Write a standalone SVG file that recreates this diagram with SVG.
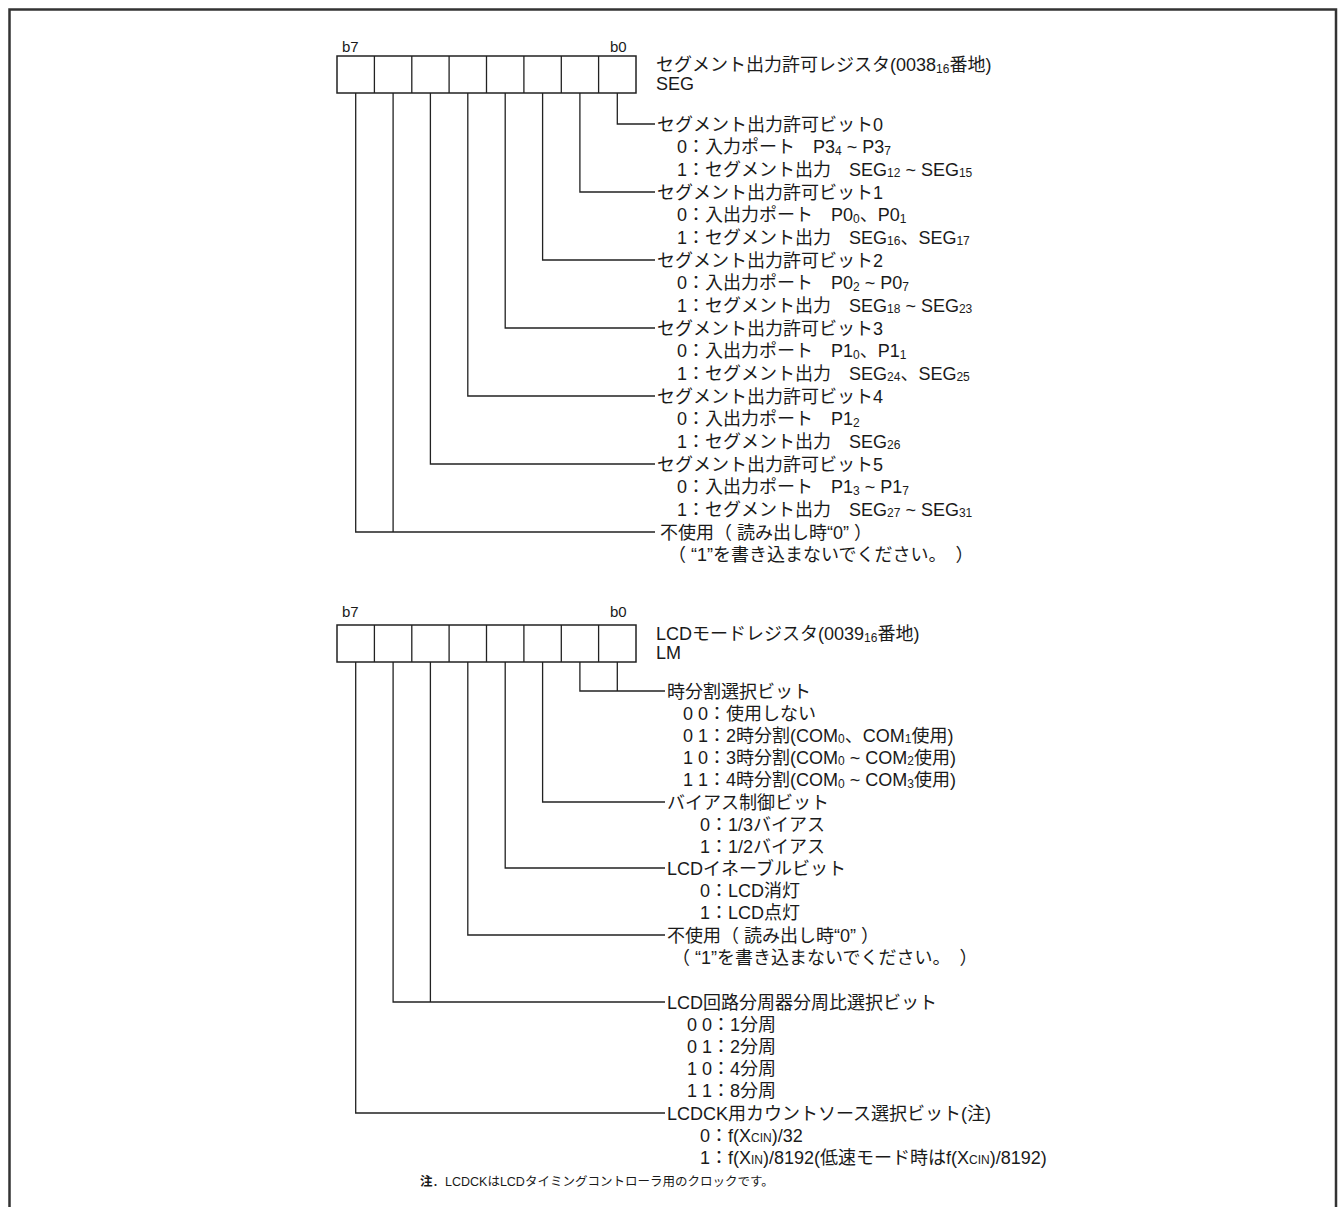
<svg xmlns="http://www.w3.org/2000/svg" width="1339" height="1207" viewBox="0 0 1339 1207">
<style>
text{font-family:"Liberation Sans","Noto Sans CJK JP",sans-serif;font-size:18px;fill:#1a1a1a}
.s{font-size:12px}
.b{font-size:15px}
.n{font-size:12.5px}
.nb{font-size:12.5px;font-weight:bold}
.ln{stroke:#222;stroke-width:1.3;fill:none}
.bx{stroke:#222;stroke-width:1.5;fill:#fff}
.fr{stroke:#333;stroke-width:2.5;fill:none}
</style>
<path class="fr" d="M9.5,1207 V9.5 H1336 V1207"/>

<g id="reg-seg">
<text class="b" x="342" y="52">b7</text>
<text class="b" x="610" y="52">b0</text>
<rect class="bx" x="337" y="56" width="299" height="37"/>
<path class="ln" d="M374.4,56V93M411.8,56V93M449.1,56V93M486.5,56V93M523.9,56V93M561.3,56V93M598.6,56V93"/>
<text x="656" y="71">セグメント出力許可レジスタ(0038<tspan class="s" dy="1.5">16</tspan><tspan dy="-1.5">番地)</tspan></text>
<text x="656" y="90">SEG</text>
</g>

<g id="connectors-seg">
<path class="ln" d="M617.3,93V124H655"/>
<path class="ln" d="M579.9,93V192H655"/>
<path class="ln" d="M542.6,93V260H655"/>
<path class="ln" d="M505.2,93V328H655"/>
<path class="ln" d="M467.8,93V396H655"/>
<path class="ln" d="M430.4,93V464H655"/>
<path class="ln" d="M393.1,93V532M355.7,93V532H655"/>
</g>

<g id="seg-bit0">
<text x="657" y="130.5">セグメント出力許可ビット0</text>
<text x="677" y="153.2">0：入力ポート　P3<tspan class="s" dy="1.5">4</tspan><tspan dy="-1.5"> ~ P3</tspan><tspan class="s" dy="1.5">7</tspan></text>
<text x="677" y="175.8">1：セグメント出力　SEG<tspan class="s" dy="1.5">12</tspan><tspan dy="-1.5"> ~ SEG</tspan><tspan class="s" dy="1.5">15</tspan></text>
</g>
<g id="seg-bit1">
<text x="657" y="198.5">セグメント出力許可ビット1</text>
<text x="677" y="221.2">0：入出力ポート　P0<tspan class="s" dy="1.5">0</tspan><tspan dy="-1.5">、P0</tspan><tspan class="s" dy="1.5">1</tspan></text>
<text x="677" y="243.8">1：セグメント出力　SEG<tspan class="s" dy="1.5">16</tspan><tspan dy="-1.5">、SEG</tspan><tspan class="s" dy="1.5">17</tspan></text>
</g>
<g id="seg-bit2">
<text x="657" y="266.5">セグメント出力許可ビット2</text>
<text x="677" y="289.2">0：入出力ポート　P0<tspan class="s" dy="1.5">2</tspan><tspan dy="-1.5"> ~ P0</tspan><tspan class="s" dy="1.5">7</tspan></text>
<text x="677" y="311.8">1：セグメント出力　SEG<tspan class="s" dy="1.5">18</tspan><tspan dy="-1.5"> ~ SEG</tspan><tspan class="s" dy="1.5">23</tspan></text>
</g>
<g id="seg-bit3">
<text x="657" y="334.5">セグメント出力許可ビット3</text>
<text x="677" y="357.2">0：入出力ポート　P1<tspan class="s" dy="1.5">0</tspan><tspan dy="-1.5">、P1</tspan><tspan class="s" dy="1.5">1</tspan></text>
<text x="677" y="379.8">1：セグメント出力　SEG<tspan class="s" dy="1.5">24</tspan><tspan dy="-1.5">、SEG</tspan><tspan class="s" dy="1.5">25</tspan></text>
</g>
<g id="seg-bit4">
<text x="657" y="402.5">セグメント出力許可ビット4</text>
<text x="677" y="425.2">0：入出力ポート　P1<tspan class="s" dy="1.5">2</tspan></text>
<text x="677" y="447.8">1：セグメント出力　SEG<tspan class="s" dy="1.5">26</tspan></text>
</g>
<g id="seg-bit5">
<text x="657" y="470.5">セグメント出力許可ビット5</text>
<text x="677" y="493.2">0：入出力ポート　P1<tspan class="s" dy="1.5">3</tspan><tspan dy="-1.5"> ~ P1</tspan><tspan class="s" dy="1.5">7</tspan></text>
<text x="677" y="515.8">1：セグメント出力　SEG<tspan class="s" dy="1.5">27</tspan><tspan dy="-1.5"> ~ SEG</tspan><tspan class="s" dy="1.5">31</tspan></text>
</g>
<g id="seg-bit67">
<text x="660" y="538.5">不使用（ 読み出し時“0” ）</text>
<text x="668" y="561.2">（ “1”を書き込まないでください。　）</text>
</g>

<g id="reg-lm">
<text class="b" x="342" y="617">b7</text>
<text class="b" x="610" y="617">b0</text>
<rect class="bx" x="337" y="625" width="299" height="37"/>
<path class="ln" d="M374.4,625V662M411.8,625V662M449.1,625V662M486.5,625V662M523.9,625V662M561.3,625V662M598.6,625V662"/>
<text x="656" y="640">LCDモードレジスタ(0039<tspan class="s" dy="1.5">16</tspan><tspan dy="-1.5">番地)</tspan></text>
<text x="656" y="659">LM</text>
</g>

<g id="connectors-lm">
<path class="ln" d="M617.3,662V691M579.9,662V691H665"/>
<path class="ln" d="M542.6,662V802H665"/>
<path class="ln" d="M505.2,662V868H665"/>
<path class="ln" d="M467.8,662V935H665"/>
<path class="ln" d="M430.4,662V1002M393.1,662V1002H665"/>
<path class="ln" d="M355.7,662V1113H665"/>
</g>

<g id="lm-bit01">
<text x="667" y="697.5">時分割選択ビット</text>
<text x="683" y="719.5">0 0：使用しない</text>
<text x="683" y="741.5">0 1：2時分割(COM<tspan class="s" dy="1.5">0</tspan><tspan dy="-1.5">、COM</tspan><tspan class="s" dy="1.5">1</tspan><tspan dy="-1.5">使用)</tspan></text>
<text x="683" y="763.5">1 0：3時分割(COM<tspan class="s" dy="1.5">0</tspan><tspan dy="-1.5"> ~ COM</tspan><tspan class="s" dy="1.5">2</tspan><tspan dy="-1.5">使用)</tspan></text>
<text x="683" y="786">1 1：4時分割(COM<tspan class="s" dy="1.5">0</tspan><tspan dy="-1.5"> ~ COM</tspan><tspan class="s" dy="1.5">3</tspan><tspan dy="-1.5">使用)</tspan></text>
</g>
<g id="lm-bit2">
<text x="667" y="808.5">バイアス制御ビット</text>
<text x="700" y="830.5">0：1/3バイアス</text>
<text x="700" y="852.5">1：1/2バイアス</text>
</g>
<g id="lm-bit3">
<text x="667" y="874.5">LCDイネーブルビット</text>
<text x="700" y="897">0：LCD消灯</text>
<text x="700" y="919">1：LCD点灯</text>
</g>
<g id="lm-bit4">
<text x="667" y="941.5">不使用（ 読み出し時“0” ）</text>
<text x="672" y="963.5">（ “1”を書き込まないでください。　）</text>
</g>
<g id="lm-bit56">
<text x="667" y="1008.5">LCD回路分周器分周比選択ビット</text>
<text x="687" y="1030.5">0 0：1分周</text>
<text x="687" y="1052.5">0 1：2分周</text>
<text x="687" y="1074.5">1 0：4分周</text>
<text x="687" y="1097">1 1：8分周</text>
</g>
<g id="lm-bit7">
<text x="667" y="1119.5">LCDCK用カウントソース選択ビット(注)</text>
<text x="700" y="1141.5">0：f(X<tspan class="s">CIN</tspan>)/32</text>
<text x="700" y="1163.5">1：f(X<tspan class="s">IN</tspan>)/8192(低速モード時はf(X<tspan class="s">CIN</tspan>)/8192)</text>
</g>
<g id="note">
<text x="420" y="1186"><tspan class="nb">注</tspan><tspan class="n">．LCDCKはLCDタイミングコントローラ用のクロックです。</tspan></text>
</g>
</svg>
